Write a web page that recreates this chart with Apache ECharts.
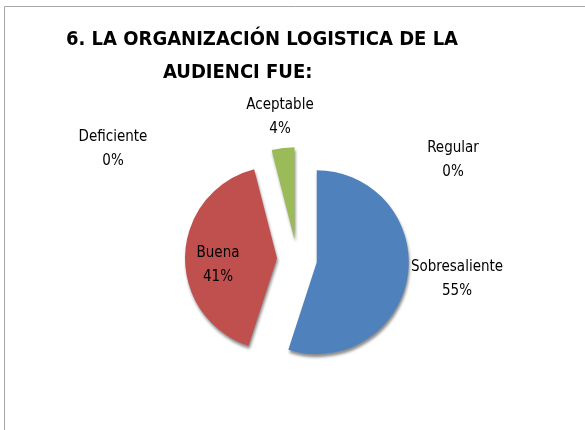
<!DOCTYPE html>
<html>
<head>
<meta charset="utf-8">
<script src="https://cdn.jsdelivr.net/npm/echarts@6/dist/echarts.min.js"></script>
<style>
  html, body { margin: 0; padding: 0; background: #fff; }
  #chart { width: 585px; height: 430px; }
</style>
</head>
<body>
<div id="chart"></div>
<script>
// categorias y valores (%)
const categories = ['Sobresaliente', 'Buena', 'Aceptable', 'Deficiente', 'Regular']
const values = [55, 41, 4, 0, 0]
const colors = ['#4F81BD', '#C0504D', '#9BBB59', '#8064A2', '#4BACC6']
const titleLines = ['6. LA ORGANIZACIÓN LOGISTICA DE LA', 'AUDIENCI FUE:']

// centro de cada etiqueta
const labelPos = [
  [457, 279],
  [218, 265],
  [280, 117],
  [113, 149],
  [453, 160]
]

const total = values.reduce((a, b) => a + b, 0)

const labels = categories.map((name, i) => ({
  type: 'text',
  x: labelPos[i][0],
  y: labelPos[i][1],
  silent: true,
  z: 10,
  style: {
    text: name + '\n' + Math.round(values[i] / total * 100) + '%',
    fontFamily: 'DejaVu Sans Condensed',
    fontSize: 15,
    lineHeight: 24,
    fill: '#000',
    align: 'center',
    verticalAlign: 'middle'
  }
}))

const chart = echarts.init(document.getElementById('chart'))

const option = {
  animation: false,
  title: [
    {
      text: titleLines[0],
      left: 61,
      top: 25,
      textStyle: { fontFamily: 'DejaVu Sans Condensed', fontWeight: 'bold', fontSize: 20, color: '#000' }
    },
    {
      text: titleLines[1],
      left: 158,
      top: 58,
      textStyle: { fontFamily: 'DejaVu Sans Condensed', fontWeight: 'bold', fontSize: 20, color: '#000' }
    }
  ],
  graphic: [
    {
      type: 'rect',
      shape: { x: 4.5, y: 6.5, width: 700, height: 600 },
      style: { fill: 'none', stroke: '#a6a6a6', lineWidth: 1 },
      silent: true
    }
  ].concat(labels),
  series: [
    {
      type: 'pie',
      center: [297, 259],
      radius: 92,
      startAngle: 90,
      clockwise: true,
      selectedMode: 'multiple',
      selectedOffset: 20,
      itemStyle: {
        shadowColor: 'rgba(0,0,0,0.45)',
        shadowBlur: 3,
        shadowOffsetX: 1,
        shadowOffsetY: 3
      },
      label: { show: false },
      labelLine: { show: false },
      emphasis: { disabled: true },
      data: categories.map((name, i) => ({
        name: name,
        value: values[i],
        selected: true,
        itemStyle: { color: colors[i] }
      }))
    }
  ]
}

chart.setOption(option)
</script>
</body>
</html>
